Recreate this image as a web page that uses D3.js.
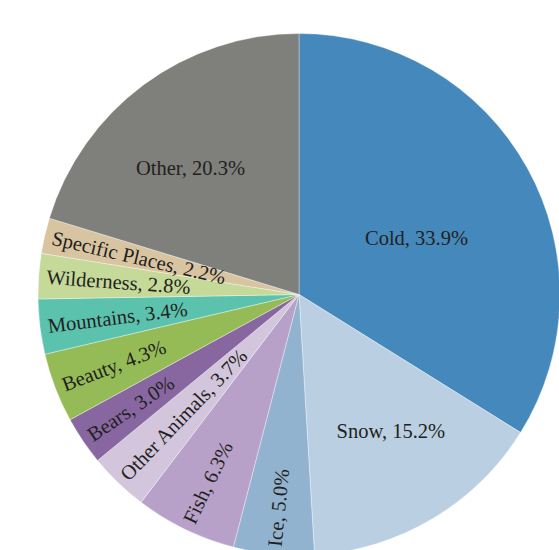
<!DOCTYPE html>
<html>
<head>
<meta charset="utf-8">
<script src="https://cdn.jsdelivr.net/npm/d3@7/dist/d3.min.js"></script>
<style>
  html, body { margin: 0; padding: 0; background: #fff; }
  svg { display: block; }
</style>
</head>
<body>
<svg id="chart" width="559" height="550"></svg>
<script>
// ---- data ----
const categories = ["Cold", "Snow", "Ice", "Fish", "Other Animals", "Bears", "Beauty",
                    "Mountains", "Wilderness", "Specific Places", "Other"];
const values = [33.9, 15.2, 5.0, 6.3, 3.7, 3.0, 4.3, 3.4, 2.8, 2.2, 20.3];
const colors = ["#4589bc", "#bad0e2", "#92b3d0", "#b7a1c8", "#d2c5dc", "#8866a0",
                "#95bb56", "#5ac2ad", "#c5d999", "#d9c4a2", "#7f807b"];
const horizontal = ["Cold", "Snow", "Other"];

// ---- layout ----
const cx = 299, cy = 294.5, R = 261;
const svg = d3.select("#chart");
const g = svg.append("g").attr("transform", `translate(${cx},${cy})`);

const data = categories.map((c, i) => ({ name: c, value: values[i], color: colors[i] }));
const pie = d3.pie().value(d => d.value).sort(null);
const arcs = pie(data);
const arc = d3.arc().innerRadius(0).outerRadius(R);

g.selectAll("path.slice")
  .data(arcs)
  .join("path")
  .attr("class", "slice")
  .attr("d", arc)
  .attr("fill", d => d.data.color)
  .attr("stroke", "#ffffff")
  .attr("stroke-opacity", 0.6)
  .attr("stroke-width", 0.6);

// label placement for horizontal labels: radius fraction and angle nudge (degrees)
const horizPlace = { "Cold": [0.5, 3.3], "Snow": [0.63, -3.2], "Other": [0.64, -4] };

const fontFamily = "'Liberation Serif', 'Times New Roman', serif";
const fontSize = 20.5;
const fmt = d => `${d.data.name}, ${d3.format(".1f")(d.data.value)}%`;

arcs.forEach(d => {
  const mid = (d.startAngle + d.endAngle) / 2;
  if (horizontal.includes(d.data.name)) {
    const [rf, da] = horizPlace[d.data.name];
    const a = mid + da * Math.PI / 180;
    const x = rf * R * Math.sin(a), y = -rf * R * Math.cos(a);
    g.append("text")
      .attr("x", x).attr("y", y)
      .attr("dy", "0.35em")
      .attr("text-anchor", "middle")
      .attr("font-family", fontFamily)
      .attr("font-size", fontSize)
      .attr("fill", "#231f20")
      .text(fmt(d));
  } else {
    const r0 = 0.97 * R;
    const x = r0 * Math.sin(mid), y = -r0 * Math.cos(mid);
    const rot = Math.atan2(Math.cos(mid), -Math.sin(mid)) * 180 / Math.PI;
    g.append("text")
      .attr("transform", `translate(${x},${y}) rotate(${rot})`)
      .attr("dy", "0.35em")
      .attr("text-anchor", "start")
      .attr("font-family", fontFamily)
      .attr("font-size", fontSize)
      .attr("fill", "#231f20")
      .text(fmt(d));
  }
});
</script>
</body>
</html>
